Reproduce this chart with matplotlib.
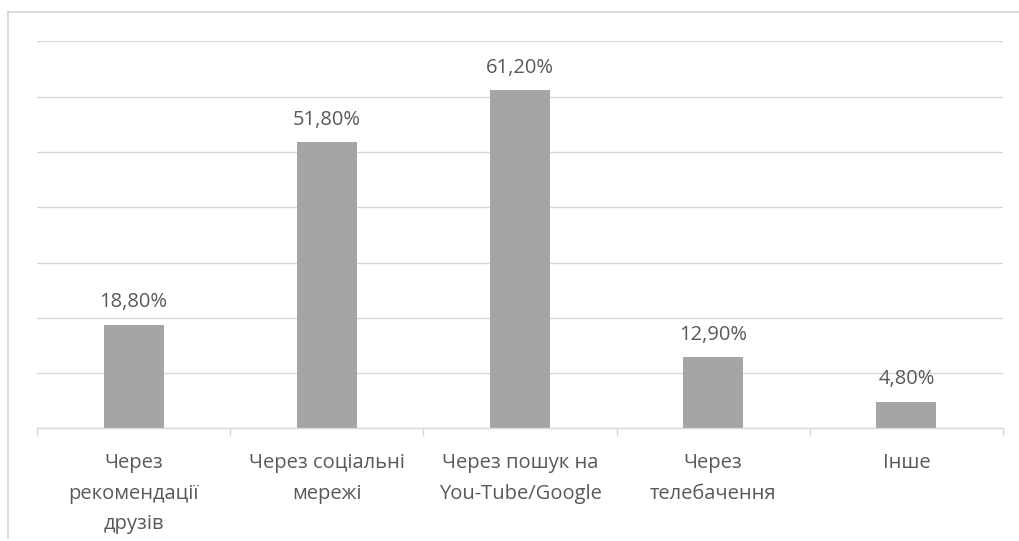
import matplotlib
matplotlib.use("Agg")
import matplotlib.pyplot as plt
import numpy as np
from matplotlib.lines import Line2D

plt.rcParams['font.family'] = ['Open Sans', 'DejaVu Sans']

# Survey answers: how people found out about the product
categories = [
    "Через\nрекомендації\nдрузів",
    "Через соціальні\nмережі",
    "Через пошук на\nYou-Tube/Google",
    "Через\nтелебачення",
    "Інше",
]
shares = [18.8, 51.8, 61.2, 12.9, 4.8]
y_ticks = [0, 10, 20, 30, 40, 50, 60, 70]

text_color = '#595959'
line_color = '#D9D9D9'
bar_color = '#A5A5A5'

fig = plt.figure(figsize=(10.19, 5.41), dpi=100)
ax = fig.add_axes([0.0363, 0.208, 0.948, 0.7155])

x = np.arange(len(categories))
bars = ax.bar(x, shares, width=0.31, color=bar_color, zorder=3)

for bar, val in zip(bars, shares):
    ax.annotate(f"{val:.2f}".replace('.', ',') + '%',
                xy=(bar.get_x() + bar.get_width() / 2, val),
                xytext=(0, 9), textcoords='offset points',
                ha='center', va='bottom', fontsize=14.5, color=text_color)

ax.set_xlim(-0.5, len(categories) - 0.5)
ax.set_ylim(0, 70)
ax.set_yticks(y_ticks)
ax.yaxis.grid(True, color=line_color, linewidth=1.0, zorder=0)
ax.tick_params(axis='y', left=False, labelleft=False)

# category labels under the bars, tick marks at the category borders
ax.set_xticks(x)
ax.set_xticklabels(categories, fontsize=14.5, color=text_color, linespacing=1.7)
ax.tick_params(axis='x', which='major', length=0, pad=18)
ax.set_xticks(np.arange(-0.5, len(categories)), minor=True)
ax.tick_params(axis='x', which='minor', length=5.5, width=1.0, color=line_color, direction='out')

for side in ['top', 'right', 'left']:
    ax.spines[side].set_visible(False)
ax.spines['bottom'].set_color(line_color)
ax.spines['bottom'].set_linewidth(1.0)
ax.spines['bottom'].set_zorder(4)

# outer chart frame
W, H = 1019, 541
fig.add_artist(Line2D([8 / W, 8 / W], [1 - 12 / H, 1 - 538 / H], color=line_color, linewidth=1.3,
                      transform=fig.transFigure))
fig.add_artist(Line2D([8 / W, 1.0], [1 - 12 / H, 1 - 12 / H], color=line_color, linewidth=1.3,
                      transform=fig.transFigure))

fig.savefig('out.png', dpi=100)
